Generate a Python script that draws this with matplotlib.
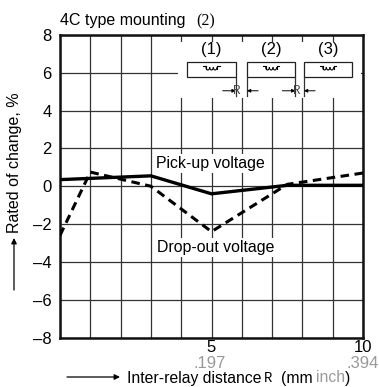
import matplotlib
matplotlib.use('Agg')
import matplotlib.pyplot as plt
from matplotlib.patches import Rectangle, Arc
import numpy as np

plt.rc('font', family=['Liberation Sans', 'DejaVu Sans'], size=10)

pickup_x = [0, 3, 5, 7.5, 10]
pickup_y = [0.35, 0.55, -0.4, 0.05, 0.05]
dropout_x = [0, 1, 3, 5, 7.5, 10]
dropout_y = [-2.6, 0.75, 0.0, -2.4, 0.1, 0.7]
yticks = [-8, -6, -4, -2, 0, 2, 4, 6, 8]
yticklabels = ['\u20138', '\u20136', '\u20134', '\u20132', '0', '2', '4', '6', '8']
box_left = [4.2, 6.17, 8.05]
labels = ['(1)', '(2)', '(3)']

fig = plt.figure(figsize=(3.79, 3.87), dpi=100)
W, H = 379.0, 387.0
ax = fig.add_axes([60 / W, (H - 337.5) / H, 303 / W, 302.5 / H])

ax.set_xlim(0, 10)
ax.set_ylim(-8, 8)
ax.set_xticks(np.arange(0, 11, 1))
ax.set_yticks(yticks)
ax.set_yticklabels(yticklabels, fontsize=12)
ax.set_xticklabels([])
ax.tick_params(length=0, pad=6)
ax.grid(True, color='#333333', linewidth=0.9)
ax.set_axisbelow(True)
for s in ax.spines.values():
    s.set_linewidth(1.8)
    s.set_color('#111111')

ax.plot(pickup_x, pickup_y, color='k', linewidth=2.4, solid_joinstyle='miter', zorder=3)
ax.plot(dropout_x, dropout_y, color='k', linewidth=2.2, linestyle=(0, (2.8, 1.8)), zorder=3)

# white patch behind the relay sketch
ax.add_patch(Rectangle((3.9, 4.65), 6.03, 3.0, facecolor='w', edgecolor='none', zorder=1.5))

for left, lab in zip(box_left, labels):
    ax.add_patch(Rectangle((left, 5.77), 1.6, 0.8, facecolor='w', edgecolor='#222222',
                           linewidth=0.9, zorder=2))
    ax.text(left + 0.8, 7.25, lab, ha='center', va='center', fontsize=12, zorder=4)
    cx = left + 0.8
    for dx in [-0.12, 0, 0.12]:
        ax.add_patch(Arc((cx + dx, 6.3), 0.12, 0.3, theta1=180, theta2=360,
                         color='k', linewidth=0.8, zorder=4))
    ax.plot([cx - 0.27, cx - 0.18], [6.36, 6.36], color='k', lw=0.8, zorder=4)
    ax.plot([cx - 0.18, cx - 0.18], [6.36, 6.2], color='k', lw=0.8, zorder=4)
    ax.plot([cx + 0.18, cx + 0.27], [6.36, 6.36], color='k', lw=0.8, zorder=4)
    ax.plot([cx + 0.18, cx + 0.18], [6.36, 6.2], color='k', lw=0.8, zorder=4)

# R dimension marks between the boxes
for a, b in zip(box_left[:-1], box_left[1:]):
    r = a + 1.6
    ax.plot([r, r], [5.77, 4.8], color='#333333', lw=0.9, zorder=2)
    ax.plot([b, b], [5.77, 4.8], color='#333333', lw=0.9, zorder=2)
    ax.annotate('', xy=(r, 5.05), xytext=(r - 0.43, 5.05),
                arrowprops=dict(arrowstyle='-|>', color='k', lw=0.7, mutation_scale=5, shrinkA=0, shrinkB=0), zorder=4)
    ax.annotate('', xy=(b, 5.05), xytext=(b + 0.37, 5.05),
                arrowprops=dict(arrowstyle='-|>', color='k', lw=0.7, mutation_scale=5, shrinkA=0, shrinkB=0), zorder=4)
    ax.text(r + 0.03, 5.05, 'R', family='Liberation Mono', fontsize=9, ha='center', va='center',
            color='#444444', zorder=4)

bbox = dict(facecolor='w', edgecolor='none', pad=1.2)
ax.text(4.95, 1.2, 'Pick-up voltage', ha='center', va='center', fontsize=11.4, bbox=bbox, zorder=2.5)
ax.text(5.13, -3.25, 'Drop-out voltage', ha='center', va='center', fontsize=11.4, bbox=bbox, zorder=2.5)

fig.text(60.5 / W, 1 - 20 / H, '4C type mounting', ha='left', va='center', fontsize=11.5)
fig.text(196 / W, 1 - 21 / H, '(2)', ha='left', va='center', fontsize=11.5, family='Liberation Serif')

fig.text(211 / W, 1 - 348 / H, '5', ha='center', va='center', fontsize=12)
fig.text(363 / W, 1 - 348 / H, '10', ha='center', va='center', fontsize=12)
fig.text(210 / W, 1 - 363 / H, '.197', ha='center', va='center', fontsize=12, color='#999999')
fig.text(363 / W, 1 - 363 / H, '.394', ha='center', va='center', fontsize=12, color='#999999')

ty = 1 - 378 / H
fig.text(127 / W, ty, 'Inter-relay distance', ha='left', va='center', fontsize=11.3)
fig.text(264 / W, ty, 'R', ha='left', va='center', fontsize=10, family='Liberation Mono')
fig.text(281 / W, ty, '(mm', ha='left', va='center', fontsize=11.3)
fig.text(316 / W, ty, 'inch', ha='left', va='center', fontsize=11.3, color='#999999')
fig.text(345 / W, ty, ')', ha='left', va='center', fontsize=11.3)

fig.text(15 / W, 1 - 163 / H, 'Rated of change, %', rotation=90, ha='center', va='center', fontsize=11.5)
ax.annotate('', xy=(120 / W, 1 - 377 / H), xytext=(67 / W, 1 - 377 / H), xycoords='figure fraction',
            textcoords='figure fraction',
            arrowprops=dict(arrowstyle='-|>', color='k', lw=0.9, mutation_scale=8, shrinkA=0, shrinkB=0),
            annotation_clip=False)
ax.annotate('', xy=(14 / W, 1 - 238 / H), xytext=(14 / W, 1 - 290 / H), xycoords='figure fraction',
            textcoords='figure fraction',
            arrowprops=dict(arrowstyle='-|>', color='k', lw=0.9, mutation_scale=8, shrinkA=0, shrinkB=0),
            annotation_clip=False)

plt.savefig('out.png', dpi=100)
